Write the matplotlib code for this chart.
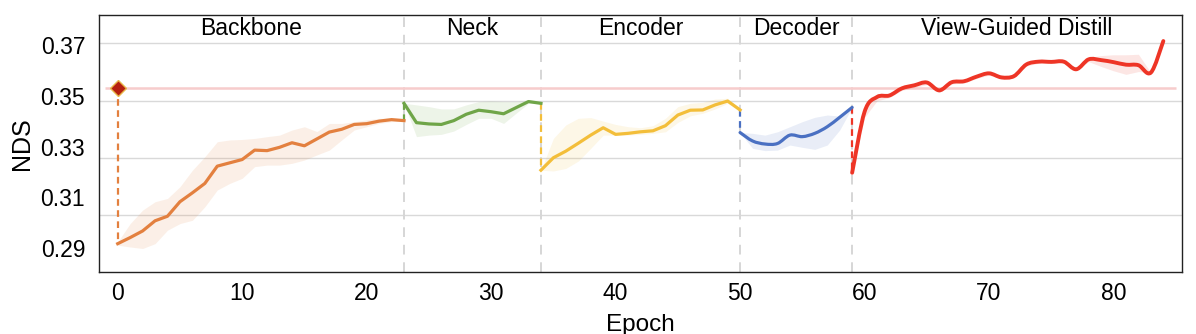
import matplotlib
matplotlib.use("Agg")
import matplotlib.pyplot as plt
import numpy as np
from matplotlib.path import Path
from matplotlib.patches import PathPatch

plt.rcParams["font.family"] = ["Liberation Sans", "DejaVu Sans"]

# ---- data ----
BASELINE_NDS = 0.3529
STAGES = ["Backbone", "Neck", "Encoder", "Decoder", "View-Guided Distill"]
STAGE_BOUNDS = [23, 34, 50, 59]

backbone_epochs = list(range(0, 24))
backbone_nds = [0.2918, 0.2942, 0.2968, 0.3008, 0.3026, 0.3083, 0.3118, 0.3155,
                0.3223, 0.3236, 0.3249, 0.3286, 0.3284, 0.3297, 0.3315, 0.3303,
                0.3330, 0.3357, 0.3368, 0.3387, 0.3390, 0.3400, 0.3406, 0.3402]
backbone_hi = [0.2925, 0.2997, 0.3050, 0.3083, 0.3096, 0.3142, 0.3207, 0.3260,
               0.3319, 0.3326, 0.3328, 0.3332, 0.3339, 0.3345, 0.3365, 0.3378,
               0.3359, 0.3391, 0.3391, 0.3398, 0.3405, 0.3411, 0.3411, 0.3405]
backbone_lo = [0.2912, 0.2905, 0.2899, 0.2918, 0.2971, 0.2997, 0.3010, 0.3063,
               0.3129, 0.3155, 0.3175, 0.3221, 0.3227, 0.3227, 0.3234, 0.3247,
               0.3267, 0.3286, 0.3326, 0.3365, 0.3378, 0.3391, 0.3398, 0.3400]

neck_epochs = list(range(23, 35))
neck_nds = [0.3470, 0.3394, 0.3389, 0.3387, 0.3402, 0.3427, 0.3443, 0.3437,
            0.3429, 0.3453, 0.3477, 0.3470]
neck_hi = [0.3470, 0.3464, 0.3457, 0.3448, 0.3448, 0.3464, 0.3477, 0.3479,
           0.3477, 0.3477, 0.3479, 0.3470]
neck_lo = [0.3470, 0.3339, 0.3345, 0.3348, 0.3361, 0.3387, 0.3411, 0.3411,
           0.3391, 0.3431, 0.3470, 0.3470]

enc_epochs = list(range(34, 51))
enc_nds = [0.3207, 0.3256, 0.3282, 0.3313, 0.3345, 0.3374, 0.3348, 0.3352, 0.3358,
           0.3362, 0.3382, 0.3424, 0.3443, 0.3444, 0.3464, 0.3479, 0.3444]
enc_hi = [0.3207, 0.3332, 0.3385, 0.3411, 0.3414, 0.3400, 0.3387, 0.3378, 0.3374,
          0.3382, 0.3411, 0.3457, 0.3470, 0.3474, 0.3487, 0.3490, 0.3444]
enc_lo = [0.3207, 0.3204, 0.3214, 0.3243, 0.3293, 0.3345, 0.3345, 0.3345, 0.3348,
          0.3352, 0.3358, 0.3395, 0.3421, 0.3431, 0.3448, 0.3470, 0.3444]

dec_epochs = list(range(50, 60))
dec_nds = [0.3355, 0.3322, 0.3310, 0.3312, 0.3345, 0.3339, 0.3352, 0.3378, 0.3415, 0.3454]
dec_hi = [0.3355, 0.3352, 0.3345, 0.3358, 0.3378, 0.3398, 0.3415, 0.3424, 0.3420, 0.3454]
dec_lo = [0.3355, 0.3293, 0.3284, 0.3286, 0.3306, 0.3297, 0.3289, 0.3306, 0.3365, 0.3454]

dist_epochs = list(range(59, 85))
dist_nds = [0.3197, 0.3437, 0.3495, 0.3501, 0.3529, 0.3541, 0.3552, 0.3521, 0.3553,
            0.3557, 0.3575, 0.3588, 0.3572, 0.3577, 0.3623, 0.3634, 0.3633, 0.3634,
            0.3604, 0.3643, 0.3640, 0.3632, 0.3622, 0.3620, 0.3591, 0.3715]
dist_hi = [0.3197, 0.3452, 0.3505, 0.3509, 0.3536, 0.3548, 0.3559, 0.3529, 0.3560,
           0.3564, 0.3582, 0.3595, 0.3580, 0.3584, 0.3629, 0.3640, 0.3639, 0.3640,
           0.3609, 0.3650, 0.3658, 0.3661, 0.3661, 0.3663, 0.3591, 0.3715]
dist_lo = [0.3197, 0.3415, 0.3480, 0.3493, 0.3521, 0.3533, 0.3544, 0.3513, 0.3546,
           0.3550, 0.3568, 0.3581, 0.3565, 0.3570, 0.3617, 0.3628, 0.3627, 0.3628,
           0.3599, 0.3634, 0.3615, 0.3598, 0.3584, 0.3595, 0.3591, 0.3715]

Y_TICKS = [0.29, 0.31, 0.33, 0.35, 0.37]
Y_TICK_LABELS = ["0.29", "0.31", "0.33", "0.35", "0.37"]
GRID_Y = [0.3707, 0.3480, 0.3256, 0.3030]
X_TICKS = [0, 10, 20, 30, 40, 50, 60, 70, 80]

COLORS = ["#E3803F", "#6FA548", "#F3BE3A", "#4A70C2", "#EE3526"]


def smooth_line(ax, x, y, color, lw):
    """Catmull-Rom style bezier path through the points."""
    pts = np.column_stack([x, y]).astype(float)
    n = len(pts)
    verts = [pts[0]]
    codes = [Path.MOVETO]
    for i in range(n - 1):
        pm = pts[max(i - 1, 0)]
        p0 = pts[i]
        p1 = pts[i + 1]
        p2 = pts[min(i + 2, n - 1)]
        verts += [p0 + (p1 - pm) / 6.0, p1 - (p2 - p0) / 6.0, p1]
        codes += [Path.CURVE4] * 3
    patch = PathPatch(Path(verts, codes), facecolor="none", edgecolor=color,
                      lw=lw, capstyle="round", joinstyle="round", zorder=4)
    ax.add_patch(patch)


fig, ax = plt.subplots(figsize=(11.96, 3.34), dpi=100)
fig.subplots_adjust(left=0.0828, right=0.9883, bottom=0.1856, top=0.9536)

XMIN, XMAX = -1.5, 85.5
ax.set_xlim(XMIN, XMAX)
ax.set_ylim(0.28066, 0.38155)

for g in GRID_Y:
    ax.axhline(g, color="#d9d9d9", lw=1.0, zorder=0)
for b in STAGE_BOUNDS:
    ax.axvline(b, color="#d6d6d6", lw=1.4, ls=(0, (5, 4)), zorder=1)

# baseline reference
ax.hlines(BASELINE_NDS, -1, 85, color="#f7cccc", lw=1.8, zorder=1)

segments = [
    (backbone_epochs, backbone_nds, backbone_lo, backbone_hi, False),
    (neck_epochs, neck_nds, neck_lo, neck_hi, False),
    (enc_epochs, enc_nds, enc_lo, enc_hi, False),
    (dec_epochs, dec_nds, dec_lo, dec_hi, True),
    (dist_epochs, dist_nds, dist_lo, dist_hi, True),
]

prev_end = BASELINE_NDS
for (ep, nds, lo, hi, smooth), color in zip(segments, COLORS):
    ax.fill_between(ep, lo, hi, color=color, alpha=0.12, lw=0, zorder=2)
    # connector from previous stage value
    ax.plot([ep[0], ep[0]], [prev_end, nds[0]], color=color, lw=1.6,
            ls=(0, (3, 2)), zorder=3)
    lw = 2.8 if color == COLORS[-1] else 2.3
    if smooth:
        smooth_line(ax, ep, nds, color, lw)
    else:
        ax.plot(ep, nds, color=color, lw=lw, zorder=4, solid_joinstyle="round")
    prev_end = nds[-1]

ax.plot([0], [BASELINE_NDS], marker="D", ms=8.5, color="#B5200F",
        markeredgecolor="#E8B84A", markeredgewidth=1.0, zorder=6, ls="none")

# stage titles
edges = [XMIN] + STAGE_BOUNDS + [XMAX]
for name, a, b in zip(STAGES, edges[:-1], edges[1:]):
    ax.text((a + b) / 2, 0.95, name, transform=ax.get_xaxis_transform(),
            ha="center", va="center", fontsize=16.5)

ax.set_yticks(Y_TICKS)
ax.set_yticklabels(Y_TICK_LABELS)
ax.set_xticks(X_TICKS)
ax.tick_params(axis="both", length=0, labelsize=16.5)
ax.tick_params(axis="x", pad=7)
ax.tick_params(axis="y", pad=10)
ax.set_xlabel("Epoch", fontsize=17.5, labelpad=7)
ax.set_ylabel("NDS", fontsize=18, labelpad=5)

for s in ax.spines.values():
    s.set_color("#222222")
    s.set_linewidth(1.0)

fig.savefig("out.png", dpi=100)
